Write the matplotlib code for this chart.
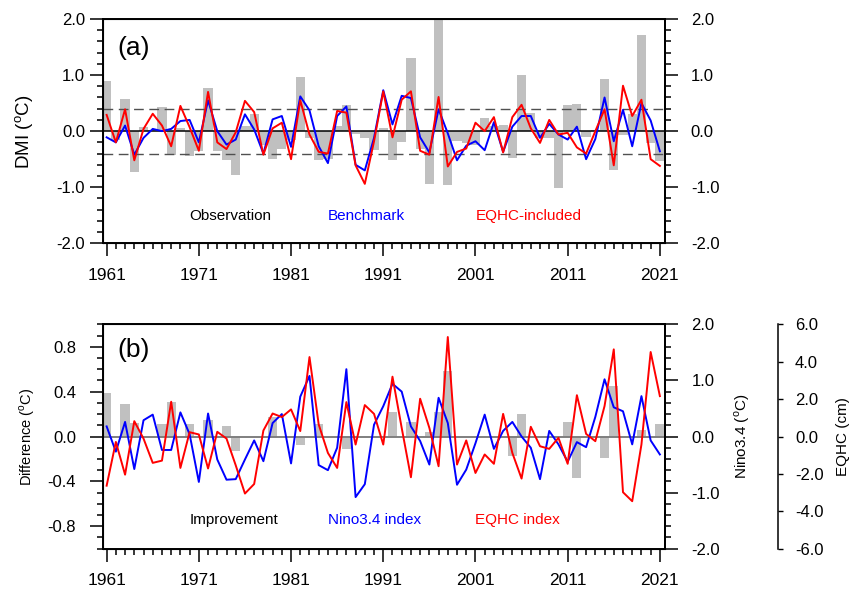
import numpy as np
import matplotlib
matplotlib.use('Agg')
import matplotlib.pyplot as plt
from matplotlib.ticker import FixedLocator, MultipleLocator, FormatStrFormatter

plt.rcParams['font.family'] = ['Liberation Sans', 'DejaVu Sans']
plt.rcParams['mathtext.fontset'] = 'custom'
plt.rcParams['mathtext.rm'] = 'Liberation Sans'

years = np.arange(1961, 2022)

# panel (a): DMI
dmi_obs = [0.90, -0.15, 0.57, -0.72, 0.07, 0.02, 0.43, -0.42, 0.05, -0.44,
           -0.36, 0.77, -0.36, -0.51, -0.78, 0.10, 0.31, -0.25, -0.49, -0.31,
           -0.15, 0.97, -0.13, -0.52, -0.49, 0.10, 0.47, -0.05, -0.13, -0.34,
           0.05, -0.52, -0.19, 1.31, -0.31, -0.94, 2.00, -0.96, -0.18, -0.22,
           -0.25, 0.24, 0.10, 0.11, -0.47, 1.00, 0.33, -0.12, -0.12, -1.02,
           0.46, 0.49, -0.10, 0.02, 0.93, -0.70, -0.06, 0.31, 1.72, -0.21,
           -0.54]
dmi_bench = [-0.11, -0.20, 0.10, -0.42, -0.12, 0.04, 0.00, 0.04, 0.18, 0.20,
             -0.20, 0.55, 0.00, -0.24, -0.15, 0.30, 0.03, -0.40, 0.21, 0.27,
             -0.28, 0.62, 0.37, -0.27, -0.57, 0.27, 0.44, -0.60, -0.70, -0.12,
             0.73, 0.12, 0.63, 0.59, -0.11, -0.38, 0.39, -0.04, -0.52, -0.26,
             -0.18, -0.34, 0.16, -0.37, 0.08, 0.27, 0.27, -0.12, 0.13, -0.06,
             -0.15, 0.08, -0.50, -0.14, 0.60, -0.18, 0.38, -0.27, 0.50, 0.19,
             -0.36]
dmi_eqhc = [0.29, -0.20, 0.39, -0.52, 0.04, 0.31, 0.10, -0.27, 0.45, 0.07,
            -0.35, 0.70, -0.20, -0.32, -0.02, 0.54, 0.34, -0.42, 0.05, 0.15,
            -0.50, 0.55, -0.06, -0.37, -0.40, 0.36, 0.33, -0.61, -0.94, -0.18,
            0.71, -0.11, 0.56, 0.71, -0.35, -0.42, 0.61, -0.63, -0.37, -0.31,
            0.15, 0.00, 0.25, -0.38, 0.25, 0.47, 0.05, -0.21, 0.20, -0.06,
            -0.03, -0.29, -0.40, 0.00, 0.39, -0.61, 0.81, 0.27, 0.56, -0.50,
            -0.62]

# panel (b): improvement, Nino3.4, EQHC
improvement = [0.39, 0.00, 0.29, 0.12, 0.00, 0.00, 0.11, 0.31, 0.00, 0.11,
               0.00, 0.15, 0.00, 0.09, -0.13, 0.00, 0.00, 0.00, 0.17, 0.00,
               0.00, -0.08, 0.00, 0.11, 0.00, 0.00, -0.11, 0.00, 0.00, 0.00,
               0.00, 0.22, 0.00, 0.13, 0.00, 0.04, 0.22, 0.58, 0.00, 0.00,
               0.00, 0.00, 0.00, 0.00, -0.17, 0.20, 0.00, 0.00, 0.00, 0.00,
               0.13, -0.37, 0.00, 0.00, -0.19, 0.45, 0.00, 0.00, 0.06, 0.00,
               0.11]
nino34 = [0.18, -0.27, 0.26, -0.58, 0.29, 0.39, -0.24, -0.24, 0.43, 0.04,
          -0.81, 0.41, -0.41, -0.77, -0.76, -0.41, -0.07, -0.44, 0.24, 0.40,
          -0.48, 0.71, 1.08, -0.51, -0.60, -0.20, 1.20, -1.08, -0.85, 0.21,
          0.54, 0.94, 0.80, 0.18, -0.08, -0.50, 0.69, 0.24, -0.86, -0.59,
          -0.12, 0.39, -0.22, 0.10, 0.26, 0.00, -0.20, -0.76, 0.10, -0.14,
          -0.45, -0.10, -0.19, 0.35, 1.02, 0.52, 0.45, -0.14, 0.72, -0.07,
          -0.32]
eqhc = [-2.63, -0.29, -2.04, 0.82, -0.11, -1.41, -1.29, 1.86, -1.68, 0.23,
        0.11, -1.71, 0.25, -0.11, -1.54, -3.05, -2.54, 0.32, 1.23, 1.04,
        1.45, 0.29, 4.25, 0.64, -0.88, -1.68, 1.84, -0.43, 1.68, 1.21,
        -0.43, 3.20, 0.46, -2.18, 2.02, 0.46, -1.59, 5.32, -1.50, -0.21,
        -1.95, -0.96, -1.46, 1.21, -0.88, -2.25, 0.52, -0.52, -0.66, -0.07,
        -1.46, 2.21, 0.14, -0.25, 1.63, 4.66, -2.98, -3.46, -0.43, 4.52,
        2.16]

rojo = '#ff0000'
azul = '#0000ff'
gris = '#c0c0c0'
x_lim = (1960.57, 2021.55)
major_len, minor_len = 9.6, 4.3


def estilo_ejes(ax, pad_y):
    ax.set_xlim(*x_lim)
    ax.xaxis.set_major_locator(FixedLocator(np.arange(1961, 2022, 10)))
    ax.xaxis.set_minor_locator(MultipleLocator(1))
    ax.tick_params(axis='x', which='both', direction='out', top=False,
                   labelsize=12.5, pad=8, width=1.1)
    ax.tick_params(axis='y', which='both', direction='out', right=False,
                   labelsize=12, pad=pad_y, width=1.1)
    ax.tick_params(which='major', length=major_len)
    ax.tick_params(which='minor', length=minor_len)
    for s in ax.spines.values():
        s.set_linewidth(1.4)


fig = plt.figure(figsize=(8.57, 5.93), dpi=100)

# ---- panel (a)
ax_a = fig.add_axes([0.1198, 0.5897, 0.6561, 0.3783])
ax_a.bar(years, dmi_obs, width=1.0, color=gris, zorder=1)
ax_a.axhline(0, color='k', lw=1.1, zorder=2)
for nivel in (0.4, -0.4):
    ax_a.axhline(nivel, color='#505050', lw=1.0, ls=(0, (7, 4)), zorder=2)
ax_a.plot(years, dmi_bench, color=azul, lw=1.4, zorder=3)
ax_a.plot(years, dmi_eqhc, color=rojo, lw=1.4, zorder=4)
ax_a.set_ylim(-2, 2)
ax_a.yaxis.set_major_locator(MultipleLocator(1.0))
ax_a.yaxis.set_minor_locator(MultipleLocator(0.2))
ax_a.yaxis.set_major_formatter(FormatStrFormatter('%.1f'))
estilo_ejes(ax_a, 3.2)
ax_a.text(1962.2, 1.48, '(a)', fontsize=19, va='center', ha='left')
ax_a.text(1970.0, -1.52, 'Observation', fontsize=11, color='k', va='center')
ax_a.text(1985.0, -1.52, 'Benchmark', fontsize=11, color=azul, va='center')
ax_a.text(2001.0, -1.52, 'EQHC-included', fontsize=11, color=rojo, va='center')

ax_a2 = ax_a.twinx()
ax_a2.set_ylim(-2, 2)
ax_a2.yaxis.set_major_locator(MultipleLocator(1.0))
ax_a2.yaxis.set_minor_locator(MultipleLocator(0.2))
ax_a2.yaxis.set_major_formatter(FormatStrFormatter('%.1f'))
ax_a2.tick_params(axis='y', which='both', direction='out', labelsize=12,
                  pad=9, width=1.1)
ax_a2.tick_params(which='major', length=major_len)
ax_a2.tick_params(which='minor', length=minor_len)
ax_a2.spines['right'].set_linewidth(1.4)

fig.text(25 / 857, 1 - 131.5 / 593, r'DMI ($^{\mathrm{o}}$C)', fontsize=13.5,
         rotation=90, ha='center', va='center')

# ---- panel (b)
ax_b = fig.add_axes([0.1198, 0.0747, 0.6561, 0.3784])
ax_b.bar(years, improvement, width=1.0, color=gris, zorder=1)
ax_b.axhline(0, color='#7f7f7f', lw=1.4, zorder=2)
ax_b.set_ylim(-1, 1)
ax_b.yaxis.set_major_locator(FixedLocator([-0.8, -0.4, 0.0, 0.4, 0.8]))
ax_b.yaxis.set_minor_locator(MultipleLocator(0.1))
ax_b.yaxis.set_major_formatter(FormatStrFormatter('%.1f'))
estilo_ejes(ax_b, 9.6)
ax_b.text(1962.2, 0.77, '(b)', fontsize=19, va='center', ha='left')
ax_b.text(1970.0, -0.74, 'Improvement', fontsize=11, color='k', va='center')
ax_b.text(1985.0, -0.74, 'Nino3.4 index', fontsize=11, color=azul, va='center')
ax_b.text(2001.0, -0.74, 'EQHC index', fontsize=11, color=rojo, va='center')

fig.text(26.7 / 857, 1 - 437 / 593, r'Difference ($^{\mathrm{o}}$C)', fontsize=10.5,
         rotation=90, ha='center', va='center')

# Nino3.4 on the right spine
ax_n = ax_b.twinx()
ax_n.plot(years, nino34, color=azul, lw=1.4)
ax_n.set_ylim(-2, 2)
ax_n.yaxis.set_major_locator(MultipleLocator(1.0))
ax_n.yaxis.set_minor_locator(MultipleLocator(0.2))
ax_n.yaxis.set_major_formatter(FormatStrFormatter('%.1f'))
ax_n.tick_params(axis='y', which='both', direction='out', labelsize=12,
                 pad=9.6, width=1.1)
ax_n.tick_params(which='major', length=major_len)
ax_n.tick_params(which='minor', length=minor_len)
ax_n.spines['right'].set_linewidth(1.4)
fig.text(741.7 / 857, 1 - 436.7 / 593, r'Nino3.4 ($^{\mathrm{o}}$C)', fontsize=11,
         rotation=90, ha='center', va='center')

# EQHC on an extra spine further right
ax_e = ax_b.twinx()
ax_e.plot(years, eqhc, color=rojo, lw=1.4)
ax_e.set_ylim(-6, 6)
ax_e.spines['right'].set_position(('axes', 1.2004))
for lado in ('top', 'bottom', 'left'):
    ax_e.spines[lado].set_visible(False)
ax_e.spines['right'].set_linewidth(1.1)
ax_e.yaxis.set_major_locator(MultipleLocator(2.0))
ax_e.yaxis.set_major_formatter(FormatStrFormatter('%.1f'))
ax_e.tick_params(axis='y', which='major', direction='out', labelsize=12,
                 length=3.6, width=1.0, pad=8.9)
fig.text(843.3 / 857, 1 - 436.7 / 593, 'EQHC (cm)', fontsize=11,
         rotation=90, ha='center', va='center')

fig.savefig('out.png', dpi=100)
